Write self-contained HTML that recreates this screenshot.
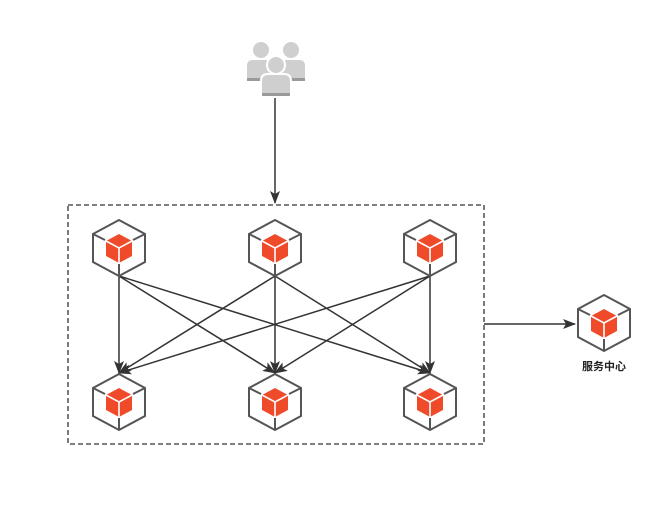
<!DOCTYPE html>
<html><head><meta charset="utf-8"><style>
html,body{margin:0;padding:0;background:#fff;}
svg{display:block}
</style></head><body>
<svg width="657" height="510" viewBox="0 0 657 510" xmlns="http://www.w3.org/2000/svg">
<defs>
<marker id="ah" markerWidth="14" markerHeight="12" refX="12" refY="6" orient="auto" markerUnits="userSpaceOnUse">
<path d="M0,1 L13,6 L0,11 L3,6 z" fill="#333"/>
</marker>
<g id="hex">
<polygon points="0,-28 26,-14 26,14 0,28 -26,14 -26,-14" fill="#fff" stroke="#555" stroke-width="2"/>
<line x1="-26" y1="-14" x2="-14" y2="-8" stroke="#555" stroke-width="2"/>
<line x1="26" y1="-14" x2="14" y2="-8" stroke="#555" stroke-width="2"/>
<line x1="0" y1="28" x2="0" y2="16" stroke="#555" stroke-width="2"/>
<polygon points="0,-14 13,-7 13,8 0,15 -13,8 -13,-7" fill="#ef4b2b"/>
<polyline points="-13,-7 0,0 13,-7" fill="none" stroke="#fff" stroke-width="1.6"/>
<line x1="0" y1="0" x2="0" y2="15" stroke="#fff" stroke-width="1.6"/>
</g>
<g id="person">
<path d="M-15,19 L-15,4 Q-15,-3 -8,-3 L8,-3 Q15,-3 15,4 L15,19 Z" fill="#cfcfcf" stroke="#fff" stroke-width="2"/>
<circle cx="0" cy="-12" r="9" fill="#cfcfcf" stroke="#fff" stroke-width="2"/>
<rect x="-14" y="16" width="28" height="3" fill="#9a9a9a"/>
</g>
</defs>
<rect x="68" y="205" width="416" height="239" fill="none" stroke="#333" stroke-width="1.3" stroke-dasharray="5,3"/>
<use href="#person" x="261" y="62"/>
<use href="#person" x="291" y="62"/>
<use href="#person" x="276" y="77"/>
<line x1="275" y1="98" x2="275" y2="203" stroke="#333" stroke-width="1.5" marker-end="url(#ah)"/>
<g stroke="#333" stroke-width="1.5" marker-end="url(#ah)">
<line x1="119" y1="276" x2="119" y2="373"/>
<line x1="119" y1="276" x2="275" y2="373"/>
<line x1="119" y1="276" x2="430" y2="373"/>
<line x1="275" y1="276" x2="119" y2="373"/>
<line x1="275" y1="276" x2="275" y2="373"/>
<line x1="275" y1="276" x2="430" y2="373"/>
<line x1="430" y1="276" x2="119" y2="373"/>
<line x1="430" y1="276" x2="275" y2="373"/>
<line x1="430" y1="276" x2="430" y2="373"/>
<line x1="484" y1="324" x2="575" y2="324"/>
</g>
<use href="#hex" x="119" y="248"/>
<use href="#hex" x="275" y="248"/>
<use href="#hex" x="430" y="248"/>
<use href="#hex" x="119" y="402"/>
<use href="#hex" x="275" y="402"/>
<use href="#hex" x="430" y="402"/>
<use href="#hex" x="604" y="323"/>
<text x="604" y="370" text-anchor="middle" font-family="Liberation Sans, Noto Sans CJK SC, sans-serif" font-size="11" font-weight="bold" fill="#222">服务中心</text>
</svg>
</body></html>
